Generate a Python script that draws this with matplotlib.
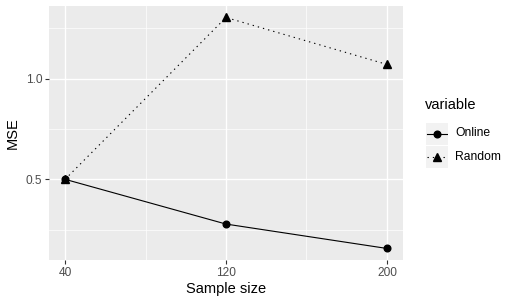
import matplotlib
matplotlib.use("Agg")
import matplotlib.pyplot as plt

plt.rcParams['font.family'] = ['Liberation Sans', 'DejaVu Sans']

sample_size = [40, 120, 200]
online = [0.50, 0.278, 0.157]
random_ = [0.50, 1.303, 1.07]
x_ticks = [40, 120, 200]
y_ticks = [0.5, 1.0]
y_tick_labels = ["0.5", "1.0"]

W, H = 518, 306
fig = plt.figure(figsize=(W / 100, H / 100), dpi=100)
fig.patch.set_facecolor("white")

l, r, t, b = 49, 403, 6, 260
ax = fig.add_axes([l / W, 1 - b / H, (r - l) / W, (b - t) / H])
ax.set_facecolor("#EBEBEB")
for s in ax.spines.values():
    s.set_visible(False)

ax.set_xlim(32, 208)
ax.set_ylim(0.0997, 1.360)

# grid
for xv in [80, 160]:
    ax.axvline(xv, color="white", lw=0.5, zorder=0.5)
for yv in [0.25, 0.75, 1.25]:
    ax.axhline(yv, color="white", lw=0.5, zorder=0.5)
for xv in x_ticks:
    ax.axvline(xv, color="white", lw=1.0, zorder=0.6)
for yv in y_ticks:
    ax.axhline(yv, color="white", lw=1.0, zorder=0.6)

LW = 0.8
ax.plot(sample_size, online, color="black", lw=LW, marker="o", ms=4.8, zorder=3)
ax.plot(sample_size, random_, color="black", lw=LW, dashes=(1.2, 3.6), marker="^", ms=5.2, zorder=3)

ax.set_xticks(x_ticks)
ax.set_xticklabels([str(v) for v in x_ticks])
ax.set_yticks(y_ticks)
ax.set_yticklabels(y_tick_labels)
ax.tick_params(axis="both", colors="#333333", length=3, width=0.8, labelsize=8.6,
               labelcolor="#4D4D4D", pad=2)

ax.set_xlabel("Sample size", fontsize=10.5, labelpad=2)
ax.set_ylabel("MSE", fontsize=10.5, labelpad=4)

# legend
fig.text(425 / W, 1 - 105 / H, "variable", fontsize=10.5, va="center", ha="left")
entries = [("Online", "o", None), ("Random", "^", (1.2, 3.6))]
key_top = 122
key_h = 23
for i, (lab, mk, dash) in enumerate(entries):
    y0 = key_top + i * key_h
    kax = fig.add_axes([426 / W, 1 - (y0 + key_h) / H, 22 / W, (key_h - 1) / H])
    kax.set_facecolor("#F2F2F2")
    kax.set_xlim(0, 1)
    kax.set_ylim(0, 1)
    kax.set_xticks([])
    kax.set_yticks([])
    for s in kax.spines.values():
        s.set_visible(False)
    kw = dict(color="black", lw=LW, marker=mk, ms=4.8 if mk == "o" else 5.2, markevery=[1])
    if dash:
        kw["dashes"] = dash
    kax.plot([0.05, 0.5, 0.95], [0.5, 0.5, 0.5], **kw)
    fig.text(455 / W, 1 - (y0 + key_h / 2) / H, lab, fontsize=8.7, va="center", ha="left")

fig.savefig("out.png", dpi=100)
